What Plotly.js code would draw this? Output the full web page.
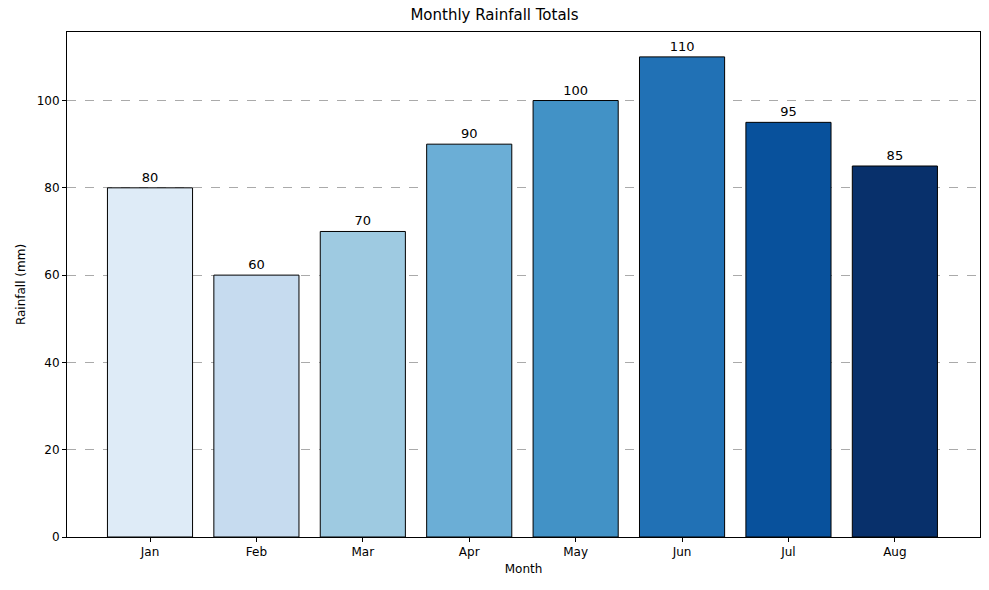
<!DOCTYPE html>
<html>
<head>
<meta charset="utf-8">
<script src="https://cdn.plot.ly/plotly-3.0.1.min.js"></script>
<style>body{margin:0;background:#fff}#chart{width:989px;height:590px}</style>
</head>
<body>
<div id="chart"></div>
<script>
// Monatliche Regenmengen
const months = ['Jan', 'Feb', 'Mar', 'Apr', 'May', 'Jun', 'Jul', 'Aug'];
const rainfall = [80, 60, 70, 90, 100, 110, 95, 85];
const barColors = ['#deebf7', '#c6dbef', '#9ecae1', '#6baed6', '#4292c6', '#2171b5', '#08519c', '#08306b'];

const trace = {
    type: 'bar',
    x: months,
    y: rainfall,
    width: 0.8,
    marker: {color: barColors, line: {color: '#000', width: 1}},
    text: rainfall.map(String),
    textposition: 'outside',
    cliponaxis: false,
    textfont: {size: 13, color: '#000'},
    hoverinfo: 'skip'
};

const axisFont = {family: 'DejaVu Sans', size: 12, color: '#000'};

const layout = {
    width: 989, height: 590,
    margin: {l: 67, r: 9, t: 32, b: 53},
    font: {family: 'DejaVu Sans', size: 12, color: '#000'},
    title: {text: 'Monthly Rainfall Totals', font: {size: 15}, x: 0.5, xanchor: 'center', y: 0.975, yanchor: 'middle'},
    paper_bgcolor: '#fff',
    plot_bgcolor: '#fff',
    showlegend: false,
    xaxis: {
        title: {text: 'Month', font: axisFont, standoff: 6},
        range: [-0.78, 7.8],
        showline: true, mirror: true, linecolor: '#000', linewidth: 1,
        ticks: 'outside', ticklen: 4, tickcolor: '#000',
        showgrid: false, zeroline: false
    },
    yaxis: {
        title: {text: 'Rainfall (mm)', font: axisFont, standoff: 8},
        range: [0, 115.7],
        dtick: 20,
        showline: true, mirror: true, linecolor: '#000', linewidth: 1,
        ticks: 'outside', ticklen: 4, tickcolor: '#000',
        showgrid: true, gridcolor: '#aaaaaa', griddash: 'dash', gridwidth: 1,
        zeroline: false
    },
    uniformtext: {mode: false}
};

Plotly.newPlot('chart', [trace], layout, {staticPlot: true, displayModeBar: false});
</script>
</body>
</html>
